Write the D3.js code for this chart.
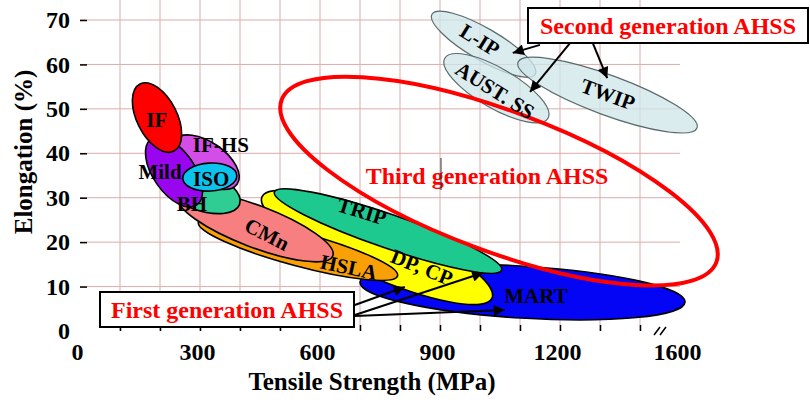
<!DOCTYPE html>
<html>
<head>
<meta charset="utf-8">
<script src="https://cdn.jsdelivr.net/npm/d3@7"></script>
<style>
body { margin: 0; background: #fff; }
svg text { font-family: "Liberation Serif", "Times New Roman", serif; font-weight: bold; }
</style>
</head>
<body>
<script>
// Steel families: each region is an ellipse given by the two ends of its long axis
// (tensile strength MPa, elongation %) and a half width in elongation %.
var families = ["L-IP", "AUST. SS", "TWIP", "MART", "DP, CP", "TRIP", "HSLA", "CMn", "BH", "IF-HS", "Mild", "IF", "ISO"];
var tsStart  = [880, 912, 1095, 700, 455, 486, 296, 245, 201, 237, 178, 150, 257];
var elStart  = [71.3, 61.4, 60.5, 11.0, 30.2, 31.3, 24.5, 30.2, 35.0, 42.9, 43.2, 55.6, 34.3];
var tsEnd    = [1138, 1170, 1685, 1625, 1030, 1054, 794, 632, 399, 393, 292, 235, 392];
var elEnd    = [57.8, 47.9, 45.7, 6.5, 7.4, 13.7, 12.4, 16.9, 28.5, 33.1, 28.4, 40.5, 35.0];
var halfWidth = [3.6, 4.5, 4.5, 5.85, 6.5, 3.8, 3.8, 4.7, 4.5, 4.5, 4.7, 4.5, 3.15];

// third generation target zone
var thirdStart = [504, 52.0], thirdEnd = [1782, 15.5], thirdHalfWidth = 15.8;

// labels inside the regions
var labelText  = ["L-IP", "AUST. SS", "TWIP", "MART", "DP, CP", "TRIP", "HSLA", "CMn", "BH", "IF-HS", "Mild", "IF", "ISO"];
var labelTs    = [1000, 1038, 1320, 1140, 855, 705, 672, 468, 280, 352, 200, 192, 328];
var labelEl    = [65.5, 54.2, 53.3, 7.9, 14.4, 27.0, 14.4, 21.8, 28.6, 41.9, 35.8, 47.5, 34.4];
var labelAngle = [32, 32, 20, 0, 22, 17, 12, 27, 0, 0, 0, 0, 0];

// arrows from the two generation boxes (start ts/el, end ts/el)
var secondArrows = [[1150, 64.4, 1082, 62.6], [1225, 64.8, 1125, 53.8], [1282, 64.8, 1318, 56.9]];
var firstArrows  = [[687, 5.85, 812, 9.9], [687, 3.6, 1008, 13.1], [687, 3.4, 1062, 4.7]];

var xTicks = [0, 300, 600, 900, 1200, 1600];
var yTicks = [0, 10, 20, 30, 40, 50, 60, 70];

var colors = {
	"L-IP": "#cfe6ea", "AUST. SS": "#cfe6ea", "TWIP": "#cfe6ea",
	"MART": "#0505f5", "DP, CP": "#ffff00", "TRIP": "#1ec98f", "HSLA": "#f9a006",
	"CMn": "#f77f7f", "BH": "#2fcc94", "IF-HS": "#d24ee6", "Mild": "#9a05f0",
	"IF": "#ff0000", "ISO": "#0cc3ee"
};

var width = 810, height = 403;
var left = 80, bottom = 331;

// axis is broken between 1400 and 1600
var x = d3.scaleLinear().domain([0, 1400, 1600]).range([80, 640, 680]);
var y = d3.scaleLinear().domain([0, 70]).range([bottom, 20]);
var right = x(1600), top = y(74.5);

var svg = d3.select("body").append("svg")
	.attr("width", width)
	.attr("height", height);

var defs = svg.append("defs");
defs.append("marker")
	.attr("id", "head")
	.attr("viewBox", "0 0 10 10")
	.attr("refX", 10).attr("refY", 5)
	.attr("markerUnits", "userSpaceOnUse")
	.attr("markerWidth", 13).attr("markerHeight", 11)
	.attr("orient", "auto")
	.append("path").attr("d", "M0,0L10,5L0,10z").attr("fill", "#000");

// grid
var grid = svg.append("g").attr("stroke", "#d09090").attr("stroke-width", 1).attr("opacity", 0.75);
grid.selectAll(".gx").data(d3.range(100, 1500, 100)).enter().append("line")
	.attr("x1", function(d) { return x(d); }).attr("x2", function(d) { return x(d); })
	.attr("y1", top).attr("y2", bottom);
grid.selectAll(".gy").data(d3.range(10, 80, 10)).enter().append("line")
	.attr("x1", left).attr("x2", right)
	.attr("y1", function(d) { return y(d); }).attr("y2", function(d) { return y(d); });

function geom(t0, e0, t1, e1, w) {
	var x0 = x(t0), y0 = y(e0), x1 = x(t1), y1 = y(e1);
	var dx = x1 - x0, dy = y1 - y0;
	return {
		cx: (x0 + x1) / 2, cy: (y0 + y1) / 2,
		rx: Math.sqrt(dx * dx + dy * dy) / 2,
		ry: y(0) - y(w),
		angle: Math.atan2(dy, dx) * 180 / Math.PI
	};
}

// frame
var frame = svg.append("g").attr("fill", "none").attr("stroke", "#000").attr("stroke-width", 2);
frame.append("rect").attr("x", left).attr("y", top).attr("width", right - left).attr("height", bottom - top);

// regions
var regions = families.map(function(f, i) {
	var g = geom(tsStart[i], elStart[i], tsEnd[i], elEnd[i], halfWidth[i]);
	g.name = f;
	return g;
});

svg.append("g").selectAll("ellipse")
	.data(regions)
	.enter().append("ellipse")
	.attr("cx", 0).attr("cy", 0)
	.attr("rx", function(d) { return d.rx; })
	.attr("ry", function(d) { return d.ry; })
	.attr("transform", function(d) { return "translate(" + d.cx + "," + d.cy + ") rotate(" + d.angle + ")"; })
	.attr("fill", function(d) { return colors[d.name]; })
	.attr("fill-opacity", function(d, i) { return i < 3 ? 0.75 : 1; })
	.attr("stroke", function(d, i) { return i < 3 ? "#5a6a6c" : "#000"; })
	.attr("stroke-width", function(d, i) { return i < 3 ? 1.2 : 1.6; });

// third generation zone
var third = geom(thirdStart[0], thirdStart[1], thirdEnd[0], thirdEnd[1], thirdHalfWidth);
svg.append("ellipse")
	.attr("rx", third.rx).attr("ry", third.ry)
	.attr("transform", "translate(" + third.cx + "," + third.cy + ") rotate(" + third.angle + ")")
	.attr("fill", "none").attr("stroke", "#ff0000").attr("stroke-width", 4);

// axis ticks (inward) and labels
svg.append("g")
	.attr("transform", "translate(0," + bottom + ")")
	.call(d3.axisBottom(x).tickValues(d3.range(100, 1500, 100)).tickSize(-6).tickFormat(""))
	.call(function(g) { g.select(".domain").remove(); g.selectAll("line").attr("stroke-width", 1.5); });
svg.append("g")
	.attr("transform", "translate(" + left + ",0)")
	.call(d3.axisLeft(y).tickValues(d3.range(10, 80, 10)).tickSize(-7).tickFormat(""))
	.call(function(g) { g.select(".domain").remove(); g.selectAll("line").attr("stroke-width", 1.5); });

svg.append("g")
	.attr("transform", "translate(0," + bottom + ")")
	.call(d3.axisBottom(x).tickValues(xTicks).tickSize(0).tickPadding(12).tickFormat(d3.format("d")))
	.call(function(g) {
		g.select(".domain").remove();
		g.selectAll("text").attr("font-size", 24).attr("fill", "#000").attr("dx", -3)
			.style("font-family", "'Liberation Serif', serif").style("font-weight", "bold");
	});
svg.append("g")
	.attr("transform", "translate(" + left + ",0)")
	.call(d3.axisLeft(y).tickValues(yTicks).tickSize(0).tickPadding(10))
	.call(function(g) {
		g.select(".domain").remove();
		g.selectAll("text").attr("font-size", 24).attr("fill", "#000")
			.style("font-family", "'Liberation Serif', serif").style("font-weight", "bold");
	});

// axis break
var bx = (x(1400) + x(1600)) / 2;
svg.append("rect").attr("x", bx - 3).attr("y", bottom - 3).attr("width", 6).attr("height", 6).attr("fill", "#fff");
[-3, 3].forEach(function(o) {
	svg.append("line")
		.attr("x1", bx + o - 3).attr("y1", bottom + 4)
		.attr("x2", bx + o + 3).attr("y2", bottom - 4)
		.attr("stroke", "#000").attr("stroke-width", 1.5);
});

// region labels
svg.append("g").selectAll("text")
	.data(labelText)
	.enter().append("text")
	.attr("transform", function(d, i) { return "translate(" + x(labelTs[i]) + "," + y(labelEl[i]) + ") rotate(" + labelAngle[i] + ")"; })
	.attr("text-anchor", "middle")
	.attr("dy", "0.35em")
	.attr("font-size", 21)
	.attr("fill", "#000")
	.text(function(d) { return d; });

// third generation label
svg.append("text")
	.attr("x", 487).attr("y", 184)
	.attr("text-anchor", "middle")
	.attr("font-size", 24).attr("fill", "#ff0000")
	.text("Third generation AHSS");
svg.append("line").attr("x1", 441).attr("x2", 441).attr("y1", 158).attr("y2", 190)
	.attr("stroke", "#333").attr("stroke-width", 1);

// arrows
function drawArrows(list) {
	svg.append("g").selectAll("line")
		.data(list)
		.enter().append("line")
		.attr("x1", function(d) { return x(d[0]); }).attr("y1", function(d) { return y(d[1]); })
		.attr("x2", function(d) { return x(d[2]); }).attr("y2", function(d) { return y(d[3]); })
		.attr("stroke", "#000").attr("stroke-width", 2)
		.attr("marker-end", "url(#head)");
}
drawArrows(secondArrows);
drawArrows(firstArrows);

// generation boxes
function box(x0, y0, w, h, label) {
	svg.append("rect").attr("x", x0).attr("y", y0).attr("width", w).attr("height", h)
		.attr("fill", "#fff").attr("stroke", "#000").attr("stroke-width", 2);
	svg.append("text").attr("x", x0 + w / 2).attr("y", y0 + h / 2).attr("dy", "0.35em")
		.attr("text-anchor", "middle").attr("font-size", 24).attr("fill", "#ff0000")
		.text(label);
}
box(528, 8, 280, 35, "Second generation AHSS");
box(100, 292, 254, 35, "First generation AHSS");

// axis titles
svg.append("text")
	.attr("x", 372).attr("y", 390)
	.attr("text-anchor", "middle").attr("font-size", 25).attr("fill", "#000")
	.text("Tensile Strength (MPa)");
svg.append("text")
	.attr("transform", "translate(32,152) rotate(-90)")
	.attr("text-anchor", "middle").attr("font-size", 25).attr("fill", "#000")
	.text("Elongation (%)");
</script>
</body>
</html>
